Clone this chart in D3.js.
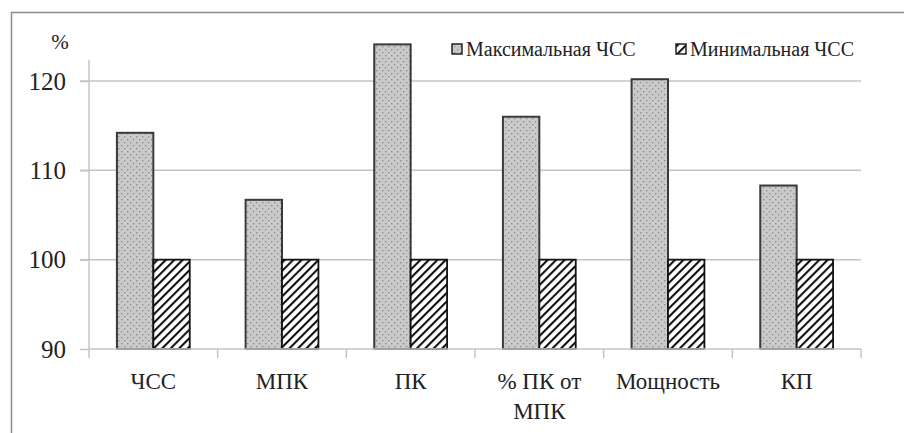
<!DOCTYPE html>
<html>
<head>
<meta charset="utf-8">
<script src="https://cdn.jsdelivr.net/npm/d3@7"></script>
</head>
<body style="margin:0; background:#fff">
<svg id="chart" width="904" height="433"></svg>
<script>
// categories and series (percent)
var categories = [["ЧСС"], ["МПК"], ["ПК"], ["% ПК от", "МПК"], ["Мощность"], ["КП"]];
var maxHR = [114.2, 106.7, 124.1, 116.0, 120.2, 108.3];
var minHR = [100, 100, 100, 100, 100, 100];
var seriesNames = ["Максимальная ЧСС", "Минимальная ЧСС"];
var yTicks = [90, 100, 110, 120];

var FONT = "'Liberation Serif', monospace";
var svg = d3.select("#chart");
var left = 89, right = 861, bottom = 349;

function serifText(sel, size) {
  return sel.attr("font-family", FONT).attr("font-size", size)
    .style("font-family", FONT).style("font-size", size + "px").attr("fill", "#222");
}

// frame round the chart area (right and bottom edge fall outside the picture)
svg.append("rect")
  .attr("x", 11.5).attr("y", 12.5)
  .attr("width", 1000).attr("height", 1000)
  .attr("fill", "none").attr("stroke", "#8c8c8c").attr("stroke-width", 1.5);

var defs = svg.append("defs");
var dots = defs.append("pattern")
  .attr("id", "dots").attr("patternUnits", "userSpaceOnUse")
  .attr("width", 6).attr("height", 6);
dots.append("rect").attr("width", 6).attr("height", 6).attr("fill", "#c9c9c9");
dots.append("rect").attr("x", 1).attr("y", 1).attr("width", 1.3).attr("height", 1.3).attr("fill", "#8a8a8a");
dots.append("rect").attr("x", 4).attr("y", 4).attr("width", 1.3).attr("height", 1.3).attr("fill", "#8a8a8a");

var hatch = defs.append("pattern")
  .attr("id", "hatch").attr("patternUnits", "userSpaceOnUse")
  .attr("width", 6).attr("height", 6)
  .attr("patternTransform", "rotate(45)");
hatch.append("rect").attr("width", 6).attr("height", 6).attr("fill", "#fff");
hatch.append("line").attr("x1", 0).attr("y1", 0).attr("x2", 0).attr("y2", 6)
  .attr("stroke", "#111").attr("stroke-width", 4.2);

var x = d3.scaleBand().domain(d3.range(categories.length)).range([left, right]).paddingInner(0).paddingOuter(0);
var y = d3.scaleLinear().domain([90, 120]).range([bottom, 81]);

// grid lines
svg.append("g").selectAll("line").data(yTicks.slice(1)).join("line")
  .attr("x1", left - 9).attr("x2", right)
  .attr("y1", function(d) { return y(d); }).attr("y2", function(d) { return y(d); })
  .attr("stroke", "#c4c4c4").attr("stroke-width", 1.5);

// y axis
var yAxis = svg.append("g").attr("transform", "translate(" + left + ",0)")
  .call(d3.axisLeft(y).tickValues(yTicks).tickSize(9).tickPadding(14));
yAxis.attr("font-family", FONT).attr("font-size", 25);
yAxis.select(".domain").remove();
yAxis.append("line").attr("x1", 0).attr("x2", 0).attr("y1", 60).attr("y2", bottom)
  .attr("stroke", "#c4c4c4").attr("stroke-width", 1.5);
yAxis.selectAll(".tick line").attr("stroke", "#c4c4c4").attr("stroke-width", 1.5);
serifText(yAxis.selectAll(".tick text"), 25);

serifText(svg.append("text").attr("x", 60).attr("y", 49).attr("text-anchor", "middle"), 21).text("%");

// bars
var bw = x.bandwidth() * 0.283;
var bars = svg.append("g");
bars.selectAll("rect.max").data(maxHR).join("rect").attr("class", "max")
  .attr("x", function(d, i) { return x(i) + x.bandwidth() / 2 - bw; })
  .attr("y", function(d) { return y(d); })
  .attr("width", bw).attr("height", function(d) { return y(90) - y(d); })
  .attr("fill", "url(#dots)").attr("stroke", "#3a3a3a").attr("stroke-width", 2);
bars.selectAll("rect.min").data(minHR).join("rect").attr("class", "min")
  .attr("x", function(d, i) { return x(i) + x.bandwidth() / 2; })
  .attr("y", function(d) { return y(d); })
  .attr("width", bw).attr("height", function(d) { return y(90) - y(d); })
  .attr("fill", "url(#hatch)").attr("stroke", "#111").attr("stroke-width", 1.8);

// x axis
var xAxis = svg.append("g").attr("transform", "translate(0," + bottom + ")");
xAxis.append("line").attr("x1", left).attr("x2", right).attr("y1", 0).attr("y2", 0)
  .attr("stroke", "#c4c4c4").attr("stroke-width", 1.5);
xAxis.selectAll("line.tk").data(d3.range(categories.length + 1)).join("line").attr("class", "tk")
  .attr("x1", function(i) { return left + i * x.step(); })
  .attr("x2", function(i) { return left + i * x.step(); })
  .attr("y1", 0).attr("y2", 9)
  .attr("stroke", "#c4c4c4").attr("stroke-width", 1.5);
var lbl = serifText(xAxis.selectAll("text.cat").data(categories).join("text").attr("class", "cat")
  .attr("text-anchor", "middle"), 23);
lbl.selectAll("tspan").data(function(d, i) { return d.map(function(s) { return { s: s, i: i }; }); })
  .join("tspan")
  .attr("x", function(d) { return x(d.i) + x.bandwidth() / 2; })
  .attr("y", function(d, j) { return 40 + j * 30; })
  .text(function(d) { return d.s; });

// legend
var legend = svg.append("g");
var legX = [452, 676];
var fills = ["url(#dots)", "url(#hatch)"];
seriesNames.forEach(function(name, i) {
  legend.append("rect").attr("x", legX[i]).attr("y", 44).attr("width", 10).attr("height", 10)
    .attr("fill", fills[i]).attr("stroke", "#222").attr("stroke-width", 1.5);
  serifText(legend.append("text").attr("x", legX[i] + 14).attr("y", 56), 20).text(name);
});
</script>
</body>
</html>
